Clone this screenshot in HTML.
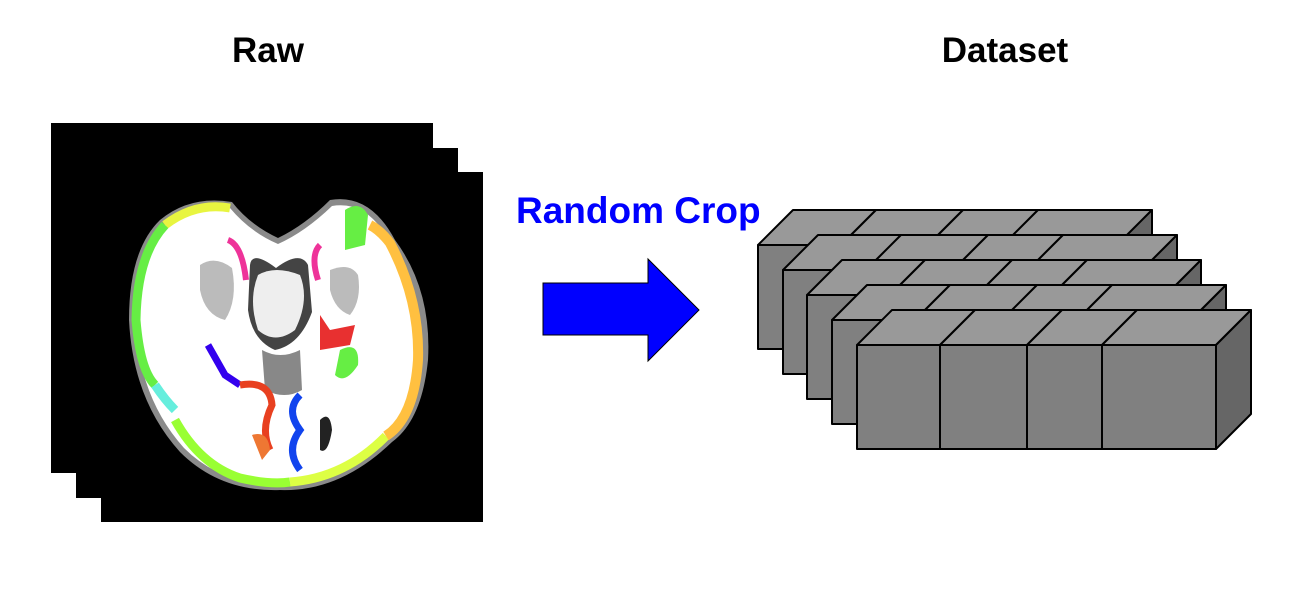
<!DOCTYPE html>
<html><head><meta charset="utf-8"><style>
html,body{margin:0;padding:0;background:#fff;}
svg{display:block;}
text{font-family:"Liberation Sans",Arial,sans-serif;font-weight:bold;}
</style></head><body>
<svg width="1294" height="598" viewBox="0 0 1294 598">
<text x="268" y="62" font-size="35" text-anchor="middle">Raw</text>
<text x="1005" y="62" font-size="35" text-anchor="middle">Dataset</text>
<g>
<rect x="51" y="123" width="382" height="350" fill="#000"/>
<rect x="76" y="148" width="382" height="350" fill="#000"/>
<rect x="101" y="172" width="382" height="350" fill="#000"/>
<g>
<path d="M160 220 Q190 195 232 202 Q250 225 278 238 Q305 225 330 200 Q370 193 395 240 Q432 290 428 360 Q422 420 392 442 Q340 492 280 490 Q220 492 180 452 Q133 400 129 320 Q129 250 160 220Z" fill="#8a8a8a"/>
<path d="M165 225 Q195 202 230 208 Q250 232 278 244 Q305 232 332 206 Q368 200 390 243 Q424 292 420 360 Q416 418 388 438 Q338 484 280 484 Q222 486 184 448 Q139 398 135 320 Q136 255 165 225Z" fill="#fff"/>
<path d="M165 225 Q195 202 230 208" stroke="#e8f540" stroke-width="9" fill="none"/>
<path d="M165 225 Q137 255 136 320 Q140 370 155 385" stroke="#66ee44" stroke-width="9" fill="none"/>
<path d="M155 385 Q165 400 175 410" stroke="#66eedd" stroke-width="9" fill="none"/>
<path d="M175 420 Q200 465 240 478 Q270 485 290 482" stroke="#99ff33" stroke-width="9" fill="none"/>
<path d="M290 482 Q345 478 386 436" stroke="#ddff44" stroke-width="9" fill="none"/>
<path d="M386 436 Q414 418 418 360 Q420 300 390 243 Q380 230 370 225" stroke="#ffc040" stroke-width="10" fill="none"/>
<path d="M345 210 Q360 200 368 215 L365 245 L345 250Z" fill="#66ee44"/>
<path d="M200 265 Q215 255 232 268 Q238 300 225 320 Q205 315 200 290Z" fill="#bbb"/>
<path d="M330 270 Q350 262 358 275 Q362 300 350 315 Q335 310 330 290Z" fill="#bbb"/>
<path d="M228 240 Q242 245 246 280" stroke="#ee3399" stroke-width="6" fill="none"/>
<path d="M320 245 Q310 255 318 280" stroke="#ee3399" stroke-width="6" fill="none"/>
<path d="M250 265 Q252 250 276 268 Q300 250 308 265 L312 312 Q300 345 275 350 Q252 340 248 310Z" fill="#444"/>
<path d="M258 275 Q275 265 300 275 Q310 300 295 330 Q275 345 258 330 Q248 300 258 275Z" fill="#eee"/>
<path d="M262 350 Q280 360 300 350 L302 390 Q285 400 265 390Z" fill="#888"/>
<path d="M320 315 L330 330 L355 325 L350 345 L320 350Z" fill="#e83030"/>
<path d="M340 350 Q360 340 358 365 Q345 385 335 375Z" fill="#66ee44"/>
<path d="M208 345 L225 375 L240 385" stroke="#3300ee" stroke-width="7" fill="none"/>
<path d="M240 385 Q270 380 272 405 Q260 430 270 450" stroke="#e84020" stroke-width="7" fill="none"/>
<path d="M300 395 Q285 410 300 430 Q285 450 300 470" stroke="#1144ee" stroke-width="7" fill="none"/>
<path d="M252 435 Q268 430 270 450 L262 460Z" fill="#ee7733"/>
<path d="M320 420 Q330 410 332 430 Q328 455 320 450Z" fill="#222"/>
</g>
</g>
<text x="516" y="223" font-size="37" fill="#0000ff">Random Crop</text>
<polygon points="543,283 648,283 648,259 699,310 648,361 648,335 543,335" fill="#0000ff" stroke="#000" stroke-width="1"/>
<g id="cubes"></g>
</svg>
<script>
const boxX = [758, 783, 807, 832, 857];
const boxY = [245, 270, 295, 320, 345];
const divs = [0, 83, 170, 245, 359];
const W = 359, H = 104, D = 35;
const g = document.getElementById('cubes');
const NS = 'http://www.w3.org/2000/svg';
function poly(pts, fill, parent){
  const p = document.createElementNS(NS,'polygon');
  p.setAttribute('points', pts.map(a=>a.join(',')).join(' '));
  p.setAttribute('fill', fill); p.setAttribute('stroke','#000'); p.setAttribute('stroke-width','2');
  p.setAttribute('stroke-linejoin','round');
  parent.appendChild(p); return p;
}
boxX.forEach((x,i)=>{
  const y = boxY[i];
  const b = document.createElementNS(NS,'g');
  
  
  g.appendChild(b);
  for(let k=0;k<4;k++){
    const a=x+divs[k], c=x+divs[k+1];
    poly([[a,y],[c,y],[c,y+H],[a,y+H]],'#808080',b);
    poly([[a,y],[a+D,y-D],[c+D,y-D],[c,y]],'#999999',b);
  }
  poly([[x+W,y],[x+W+D,y-D],[x+W+D,y+H-D],[x+W,y+H]],'#666666',b);
});
</script>
</body></html>
